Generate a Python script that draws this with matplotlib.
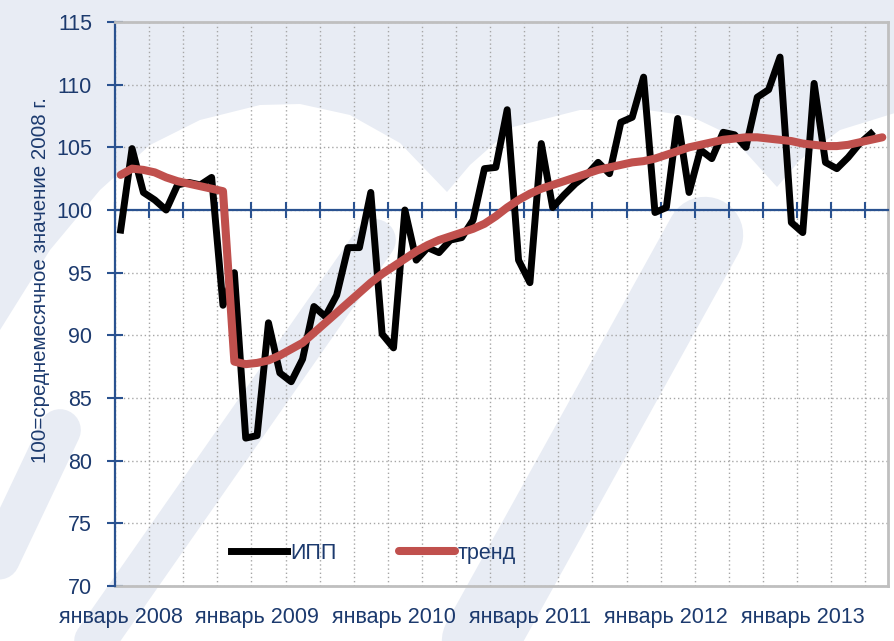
import matplotlib
matplotlib.use("Agg")
import matplotlib.pyplot as plt
from matplotlib.patches import Polygon
from matplotlib.lines import Line2D
import numpy as np

plt.rcParams['font.family'] = ['Liberation Sans', 'DejaVu Sans']

# ИПП, помесячно: январь 2008 - июль 2013
ipp = [98.4, 104.9, 101.4, 100.8, 100.0, 102.0, 102.2, 102.0, 102.6, 92.4, 95.0, 81.8,
       82.0, 91.0, 87.0, 86.3, 88.1, 92.3, 91.5, 93.2, 97.0, 97.0, 101.4, 90.1,
       89.0, 100.0, 96.0, 97.0, 96.6, 97.6, 97.8, 99.2, 103.3, 103.4, 108.0, 96.0,
       94.2, 105.3, 100.2, 101.2, 102.1, 102.8, 103.8, 102.9, 107.0, 107.4, 110.6, 99.8,
       100.2, 107.3, 101.4, 104.8, 104.1, 106.2, 106.0, 105.0, 109.0, 109.6, 112.2, 99.0,
       98.2, 110.1, 103.8, 103.3, 104.2, 105.3, 106.1]
# тренд: январь 2008 - август 2013
trend = [102.8, 103.3, 103.2, 103.0, 102.6, 102.3, 102.1, 101.9, 101.7, 101.5, 87.9, 87.7,
         87.8, 88.0, 88.4, 88.9, 89.4, 90.2, 91.0, 91.8, 92.6, 93.4, 94.2, 94.9,
         95.5, 96.1, 96.7, 97.2, 97.6, 97.9, 98.2, 98.5, 98.9, 99.5, 100.2, 100.8,
         101.3, 101.7, 102.0, 102.3, 102.6, 102.9, 103.2, 103.4, 103.6, 103.8, 103.9, 104.1,
         104.4, 104.7, 105.0, 105.2, 105.4, 105.6, 105.7, 105.8, 105.8, 105.7, 105.6, 105.5,
         105.3, 105.2, 105.1, 105.1, 105.2, 105.4, 105.6, 105.8]
years = [2008, 2009, 2010, 2011, 2012, 2013]
year_labels = ["январь %d" % y for y in years]

navy = "#1C3A6E"
blue = "#2A5290"
bg = "#E8ECF4"
W, H = 895, 641

fig = plt.figure(figsize=(W / 100, H / 100), dpi=100)
fig.patch.set_facecolor(bg)


def px(pts):
    # пиксели (от верхнего левого угла) -> доли фигуры
    return [(x / W, 1 - y / H) for x, y in pts]


# фон: белые арки и диагональные полосы (логотип)
arch = [(0, 330), (50, 250), (100, 190), (150, 145), (200, 120), (260, 105), (300, 104),
        (350, 115), (400, 143), (447, 192), (470, 165), (513, 127), (580, 110), (647, 110),
        (690, 116), (730, 135), (777, 187), (800, 160), (840, 130), (895, 113),
        (895, 641), (0, 641)]
fig.add_artist(Polygon(px(arch), closed=True, transform=fig.transFigure,
                       facecolor="white", edgecolor="none", zorder=-10))
for (x0, y0), (x1, y1), w in [((375, 240), (95, 641), 30),
                              ((705, 235), (480, 641), 55),
                              ((60, 430), (-40, 641), 30)]:
    (a, b), (c, d) = px([(x0, y0), (x1, y1)])
    fig.add_artist(Line2D([a, c], [b, d], transform=fig.transFigure, color=bg,
                          lw=w, solid_capstyle="round", zorder=-9))

ax = fig.add_axes([115 / W, 1 - 586 / H, (888 - 115) / W, (586 - 22) / H])
ax.set_facecolor("none")

x_ipp = np.arange(len(ipp))
x_tr = np.arange(len(trend))
ax.plot(x_ipp, ipp, color="black", lw=5, solid_joinstyle="round", label="ИПП", zorder=3)
ax.plot(x_tr, trend, color="#C0504D", lw=5.8, solid_joinstyle="round",
        solid_capstyle="round", label="тренд", zorder=4)

ax.set_xlim(-0.5, 67.5)
ax.set_ylim(70, 115)
ax.set_xticks(np.arange(-0.5, 68, 3))
ax.set_yticks(np.arange(70, 116, 5))
ax.grid(True, color="#A6A6A6", linestyle=(0, (1, 2)), linewidth=1)
ax.set_axisbelow(True)

for s in ["top", "right"]:
    ax.spines[s].set_color("#BFBFBF")
    ax.spines[s].set_linewidth(2)
ax.spines["left"].set_color(blue)
ax.spines["left"].set_linewidth(1.6)
ax.spines["bottom"].set_position(("data", 100))
ax.spines["bottom"].set_color(blue)
ax.spines["bottom"].set_linewidth(1.6)
ax.axhline(70, color="#BFBFBF", lw=2, clip_on=False, zorder=1)

ax.tick_params(axis="x", direction="inout", length=12, width=1.5, color=blue,
               labelbottom=False)
ax.tick_params(axis="y", direction="inout", length=11, width=1.5, color=blue,
               labelsize=15.5, labelcolor=navy, pad=11)

for i, lab in zip(range(0, len(trend), 12), year_labels):
    ax.text(i, -0.037, lab, transform=ax.get_xaxis_transform(), ha="center", va="top",
            fontsize=15.5, color=navy)

fig.text(41 / W, 1 - 280 / H, "100=среднемесячное значение 2008 г.", rotation=90,
         ha="center", va="center", fontsize=14.8, color=navy)

ax.legend(ncol=2, frameon=False, loc="center left", bbox_to_anchor=(0.136, 0.0585),
          borderpad=0, handlelength=2.6, handletextpad=0.15, columnspacing=2.9,
          fontsize=15.5, labelcolor=navy)

fig.savefig("out.png", dpi=100, facecolor=fig.get_facecolor())
